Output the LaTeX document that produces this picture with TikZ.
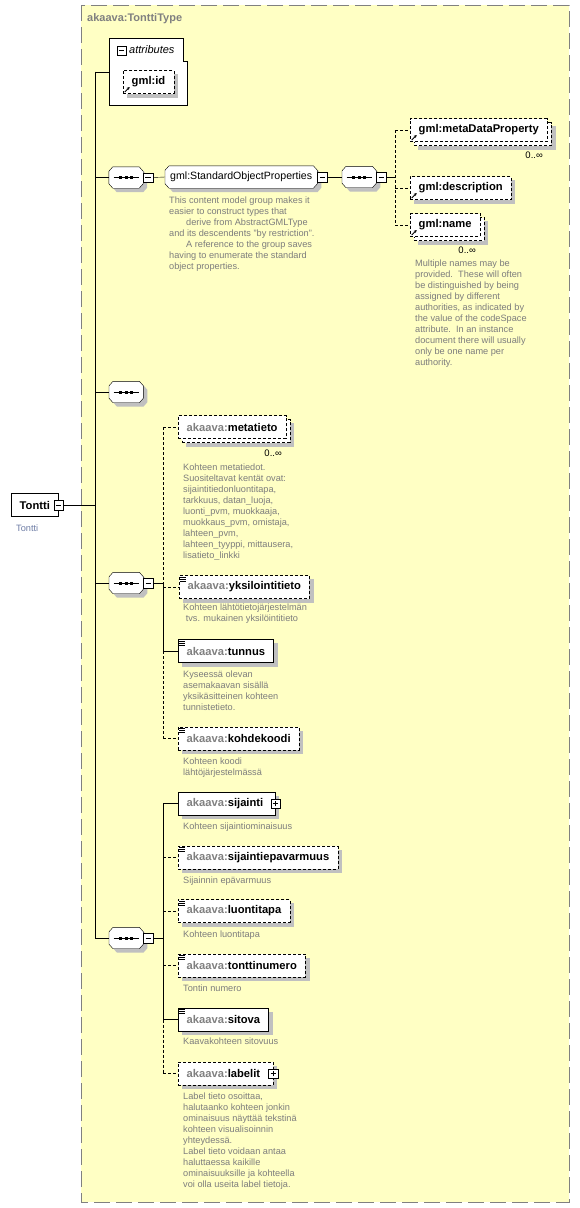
\documentclass[tikz,border=0pt]{standalone}
\usepackage{fontspec}
\setmainfont{Liberation Sans}
\usetikzlibrary{arrows.meta,shadows}

\definecolor{bgyellow}{RGB}{255,255,196}
\definecolor{framegray}{RGB}{128,128,128}
\definecolor{shadowgray}{RGB}{192,192,192}
\definecolor{descgray}{RGB}{125,125,125}
\definecolor{annoblue}{RGB}{110,125,165}

\pgfdeclarelayer{back}
\pgfdeclarelayer{shad}
\pgfsetlayers{back,shad,main}

\newcommand{\pfx}[1]{\textcolor{framegray}{#1}}
% grey shadow behind a named box
\newcommand{\shadowof}[2][4pt]{%
  \begin{pgfonlayer}{shad}
    \begin{scope}[transform canvas={shift={(#1,-#1)}}]
      \fill[shadowgray] (#2.north west) rectangle (#2.south east);
    \end{scope}
  \end{pgfonlayer}}
% chamfered outline round a named node, with its shadow
\newcommand{\chamfer}[1]{%
  \begin{pgfonlayer}{shad}
    \begin{scope}[transform canvas={shift={(4pt,-4pt)}}]
      \fill[shadowgray] ([xshift=4pt]#1.north west) -- ([xshift=-4pt]#1.north east)
        -- ([yshift=-4.5pt]#1.north east) -- ([yshift=4.5pt]#1.south east)
        -- ([xshift=-4pt]#1.south east) -- ([xshift=4pt]#1.south west)
        -- ([yshift=4.5pt]#1.south west) -- ([yshift=-4.5pt]#1.north west) -- cycle;
    \end{scope}
  \end{pgfonlayer}
  \filldraw[fill=white] ([xshift=4pt]#1.north west) -- ([xshift=-4pt]#1.north east)
    -- ([yshift=-4.5pt]#1.north east) -- ([yshift=4.5pt]#1.south east)
    -- ([xshift=-4pt]#1.south east) -- ([xshift=4pt]#1.south west)
    -- ([yshift=4.5pt]#1.south west) -- ([yshift=-4.5pt]#1.north west) -- cycle;}
% sequence mark
\newcommand{\seqdots}[1]{%
  \draw ([xshift=-12.5pt]#1.center) -- ([xshift=12.5pt]#1.center);
  \foreach \d in {-5.3,0,5.3}
    \fill ([xshift=\d pt]#1.center) +(-1.5pt,-1.5pt) rectangle +(1.5pt,1.5pt);}

\tikzset{
  el/.style={draw, fill=white, inner xsep=8.5pt, inner ysep=0pt, minimum height=23pt,
    anchor=west, font=\fontsize{11.2}{13}\selectfont\bfseries},
  opt/.style={dash pattern=on 3pt off 2pt},
  multi/.style={general shadow={shadow xshift=4pt, shadow yshift=-4pt, draw, fill=white, opt}},
  simple/.style={path picture={
    \foreach \k in {1.5,3.5,5.5}
      \draw[solid, line width=0.8pt] ([xshift=1.2pt, yshift=-\k pt]path picture bounding box.north west) -- ++(6pt,0pt);}},
  refd/.style={path picture={
    \draw[solid, line width=0.8pt, -{Stealth[length=3pt, width=3pt]}]
      ([xshift=1.5pt, yshift=1.5pt]path picture bounding box.south west) -- ++(5pt,5pt);}},
  seq/.style={minimum width=34pt, minimum height=21pt, inner sep=0pt},
  grp/.style={minimum width=152pt, minimum height=22pt, inner sep=0pt, anchor=west},
  minus/.style={draw, solid, fill=white, minimum size=9.5pt, inner sep=0pt,
    path picture={\draw[line width=1pt] ([xshift=2pt]path picture bounding box.west) -- ([xshift=-2pt]path picture bounding box.east);}},
  plus/.style={draw, solid, fill=white, minimum size=9.5pt, inner sep=0pt,
    path picture={\draw[line width=1pt] ([xshift=2pt]path picture bounding box.west) -- ([xshift=-2pt]path picture bounding box.east);
      \draw[line width=1pt] ([yshift=2pt]path picture bounding box.south) -- ([yshift=-2pt]path picture bounding box.north);}},
  desc/.style={anchor=north west, inner sep=0pt, align=left, text=descgray,
    font=\fontsize{9.2}{11}\selectfont},
  occ/.style={anchor=east, inner sep=0pt, font=\fontsize{9.5}{11}\selectfont},
}

\begin{document}
\begin{tikzpicture}[x=1pt, y=-1pt, line width=1pt]
  \useasboundingbox (0,0) rectangle (580,1208);

  % type frame
  \begin{pgfonlayer}{back}
    \draw[framegray, fill=bgyellow, dash pattern=on 16pt off 6pt] (81,5) rectangle (569,1202);
  \end{pgfonlayer}
  \node[anchor=west, inner sep=0pt, text=framegray, font=\fontsize{11}{13}\selectfont\bfseries]
    (ttl) at (87,19) {akaava:TonttiType};

  \coordinate (trunk) at (95,0);
  \coordinate (busB) at (395,0);
  \coordinate (busD) at (163,0);

  % root element
  \node[el] (tontti) at (11,505) {Tontti};
  \node[minus] (tonttiM) at (tontti.east) {};
  \node[desc, text=annoblue] (tonttidoc) at (16,525) {Tontti};

  % attributes
  \node[minimum width=78pt, minimum height=67pt, inner sep=0pt, anchor=north west] (attr) at (109,38) {};
  \begin{pgfonlayer}{back}
    \draw[fill=white] (attr.north west) -- ([xshift=-4pt]attr.north east) -- ([xshift=-4pt, yshift=-23pt]attr.north east)
      -- ([yshift=-23pt]attr.north east) -- (attr.south east) -- (attr.south west) -- cycle;
  \end{pgfonlayer}
  \node[minus] (attrM) at (121.5,50.5) {};
  \node[anchor=west, inner sep=0pt, font=\fontsize{11}{13}\selectfont\itshape] (attrT) at (129,50) {attributes};
  \node[el, opt, refd] (gmlid) at (123,82) {gml:id};
  \shadowof{gmlid}

  % StandardObjectProperties
  \node[seq] (seqA) at (126,177.5) {};
  \chamfer{seqA} \seqdots{seqA}
  \node[minus, anchor=west] (seqAM) at (seqA.east) {};
  \node[grp] (sop) at (165,177) {};
  \chamfer{sop}
  \node[anchor=west, inner sep=0pt, font=\fontsize{10.6}{12}\selectfont] (soptext) at ([xshift=5pt]sop.west) {gml:StandardObjectProperties};
  \node[minus, anchor=west] (sopM) at (sop.east) {};
  \node[desc] (sopdesc) at (169,196.5) {This content model group makes it\\
    easier to construct types that\\
    \hspace*{17pt}derive from AbstractGMLType\\
    and its descendents "by restriction".\\
    \hspace*{17pt}A reference to the group saves\\
    having to enumerate the standard\\
    object properties.};
  \node[seq, anchor=west] (seqB) at (342,177) {};
  \chamfer{seqB} \seqdots{seqB}
  \node[minus, anchor=west] (seqBM) at (seqB.east) {};
  \node[el, opt, multi, refd] (mdp) at (410,130) {gml:metaDataProperty};
  \shadowof[8pt]{mdp}
  \node[occ] (mdpocc) at (543,155.5) {0..∞};
  \node[el, opt, refd] (descr) at (410,188) {gml:description};
  \shadowof{descr}
  \node[el, opt, multi, refd] (gname) at (410,225) {gml:name};
  \shadowof[8pt]{gname}
  \node[occ] (gnameocc) at (476,250) {0..∞};
  \node[desc] (gnamedesc) at (415,260) {Multiple names may be\\
    provided.\ \ These will often\\
    be distinguished by being\\
    assigned by different\\
    authorities, as indicated by\\
    the value of the codeSpace\\
    attribute.\ \ In an instance\\
    document there will usually\\
    only be one name per\\
    authority.};

  % empty sequence
  \node[seq, anchor=west] (seqC) at (109,392) {};
  \chamfer{seqC} \seqdots{seqC}

  % first sequence
  \node[seq, anchor=west] (seqD) at (109,583) {};
  \chamfer{seqD} \seqdots{seqD}
  \node[minus, anchor=west] (seqDM) at (seqD.east) {};
  \node[el, opt, multi] (metatieto) at (178,427) {\pfx{akaava:}metatieto};
  \shadowof[8pt]{metatieto}
  \node[occ] (metaocc) at (282,453) {0..∞};
  \node[desc] (metadesc) at (183,463.5) {Kohteen metatiedot.\\
    Suositeltavat kentät ovat:\\
    sijaintitiedonluontitapa,\\
    tarkkuus, datan\_luoja,\\
    luonti\_pvm, muokkaaja,\\
    muokkaus\_pvm, omistaja,\\
    lahteen\_pvm,\\
    lahteen\_tyyppi, mittausera,\\
    lisatieto\_linkki};
  \node[el, opt, simple] (yksil) at (179,587) {\pfx{akaava:}yksilointitieto};
  \shadowof{yksil}
  \node[desc] (yksildesc) at (183,603.5) {Kohteen lähtötietojärjestelmän\\
    \ tvs. mukainen yksilöintitieto};
  \node[el, simple] (tunnus) at (178,651) {\pfx{akaava:}tunnus};
  \shadowof{tunnus}
  \node[desc] (tunnusdesc) at (183,670.5) {Kyseessä olevan\\
    asemakaavan sisällä\\
    yksikäsitteinen kohteen\\
    tunnistetieto.};
  \node[el, opt, simple] (kohde) at (178,738.5) {\pfx{akaava:}kohdekoodi};
  \shadowof{kohde}
  \node[desc] (kohdedesc) at (183,757.5) {Kohteen koodi\\
    lähtöjärjestelmässä};

  % second sequence
  \node[seq, anchor=west] (seqE) at (109,938) {};
  \chamfer{seqE} \seqdots{seqE}
  \node[minus, anchor=west] (seqEM) at (seqE.east) {};
  \node[el] (sijainti) at (178,803.5) {\pfx{akaava:}sijainti\hspace*{3.5pt}};
  \shadowof{sijainti}
  \node[plus] (sijaintiP) at (sijainti.east) {};
  \node[desc] (sijaintidesc) at (183,822.5) {Kohteen sijaintiominaisuus};
  \node[el, opt, simple] (sijepv) at (178,857.5) {\pfx{akaava:}sijaintiepavarmuus};
  \shadowof{sijepv}
  \node[desc] (sijepvdesc) at (183,876.5) {Sijainnin epävarmuus};
  \node[el, opt, simple] (luonti) at (178,911) {\pfx{akaava:}luontitapa};
  \shadowof{luonti}
  \node[desc] (luontidesc) at (183,930.5) {Kohteen luontitapa};
  \node[el, opt, simple] (tnumero) at (178,965.5) {\pfx{akaava:}tonttinumero};
  \shadowof{tnumero}
  \node[desc] (tnumerodesc) at (183,984.5) {Tontin numero};
  \node[el, simple] (sitova) at (178,1019.5) {\pfx{akaava:}sitova};
  \shadowof{sitova}
  \node[desc] (sitovadesc) at (183,1037.5) {Kaavakohteen sitovuus};
  \node[el, opt] (labelit) at (178,1073.5) {\pfx{akaava:}labelit\hspace*{4.5pt}};
  \shadowof{labelit}
  \node[plus] (labelitP) at (labelit.east) {};
  \node[desc] (labelitdesc) at (183,1092.5) {Label tieto osoittaa,\\
    halutaanko kohteen jonkin\\
    ominaisuus näyttää tekstinä\\
    kohteen visualisoinnin\\
    yhteydessä.\\
    Label tieto voidaan antaa\\
    haluttaessa kaikille\\
    ominaisuuksille ja kohteella\\
    voi olla useita label tietoja.};

  % connectors
  \draw (tonttiM.east) -- (tonttiM.east -| trunk);
  \draw (trunk |- attr.west) -- (trunk |- seqE.west);
  \draw (trunk |- attr.west) -- (attr.west);
  \draw (trunk |- seqA.west) -- (seqA.west);
  \draw (trunk |- seqC.west) -- (seqC.west);
  \draw (trunk |- seqD.west) -- (seqD.west);
  \draw (trunk |- seqE.west) -- (seqE.west);

  \draw (seqAM.east) -- (sop.west);
  \draw (sopM.east) -- (seqB.west);
  \draw (seqBM.east) -- (seqBM.east -| busB);
  \draw[opt] (busB |- mdp.west) -- (busB |- gname.west);
  \draw[opt] (busB |- mdp.west) -- (mdp.west);
  \draw[opt] (busB |- descr.west) -- (descr.west);
  \draw[opt] (busB |- gname.west) -- (gname.west);

  \draw (seqDM.east) -- (seqDM.east -| busD);
  \draw[opt] (busD |- metatieto.west) -- (busD |- seqDM.east);
  \draw (busD |- seqDM.east) -- (busD |- tunnus.west);
  \draw[opt] (busD |- tunnus.west) -- (busD |- kohde.west);
  \draw[opt] (busD |- metatieto.west) -- (metatieto.west);
  \draw[opt] (busD |- yksil.west) -- (yksil.west);
  \draw (busD |- tunnus.west) -- (tunnus.west);
  \draw[opt] (busD |- kohde.west) -- (kohde.west);

  \draw (seqEM.east) -- (seqEM.east -| busD);
  \draw (busD |- sijainti.west) -- (busD |- sitova.west);
  \draw[opt] (busD |- sitova.west) -- (busD |- labelit.west);
  \draw (busD |- sijainti.west) -- (sijainti.west);
  \draw[opt] (busD |- sijepv.west) -- (sijepv.west);
  \draw[opt] (busD |- luonti.west) -- (luonti.west);
  \draw[opt] (busD |- tnumero.west) -- (tnumero.west);
  \draw (busD |- sitova.west) -- (sitova.west);
  \draw[opt] (busD |- labelit.west) -- (labelit.west);
\end{tikzpicture}
\end{document}
